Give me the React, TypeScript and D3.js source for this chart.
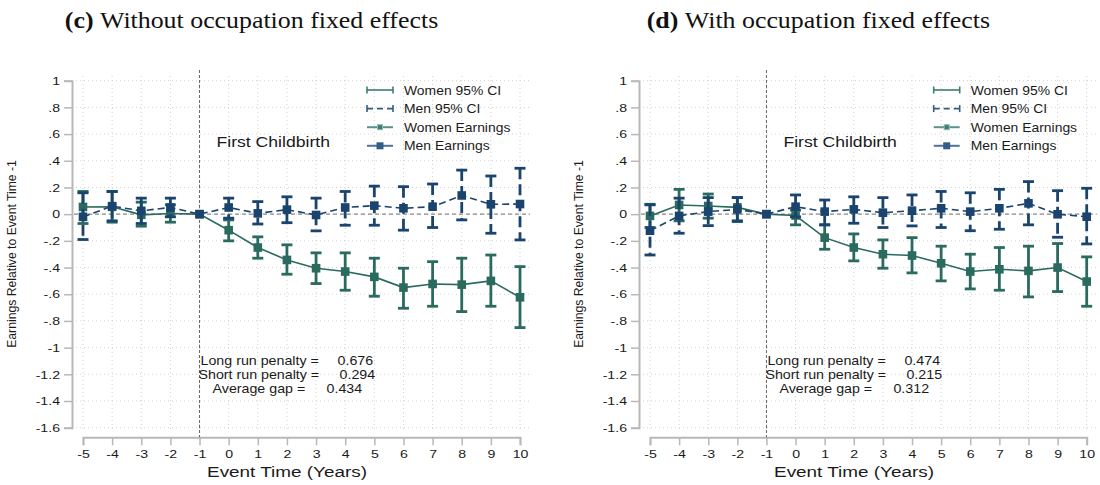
import { useRef, useEffect } from 'react'
import * as d3 from 'd3'

const EVENT_TIME = [-5, -4, -3, -2, -1, 0, 1, 2, 3, 4, 5, 6, 7, 8, 9, 10]
const Y_TICKS = [1, 0.8, 0.6, 0.4, 0.2, 0, -0.2, -0.4, -0.6, -0.8, -1, -1.2, -1.4, -1.6]

// panel (c): without occupation fixed effects
const WOMEN_C    = [0.054, 0.055, -0.005, 0.005, 0, -0.12, -0.25, -0.343, -0.405, -0.43, -0.47, -0.55, -0.523, -0.528, -0.5, -0.623]
const WOMEN_C_LO = [-0.07, -0.06, -0.09, -0.06, 0, -0.2, -0.33, -0.45, -0.52, -0.57, -0.615, -0.705, -0.69, -0.73, -0.69, -0.85]
const WOMEN_C_HI = [0.17, 0.17, 0.09, 0.07, 0, -0.043, -0.17, -0.23, -0.29, -0.29, -0.33, -0.405, -0.356, -0.33, -0.306, -0.393]
const MEN_C      = [-0.02, 0.06, 0.025, 0.05, 0, 0.05, 0.006, 0.034, -0.006, 0.05, 0.064, 0.044, 0.056, 0.14, 0.074, 0.076]
const MEN_C_LO   = [-0.19, -0.05, -0.07, -0.02, 0, -0.03, -0.074, -0.064, -0.125, -0.083, -0.083, -0.12, -0.1, -0.043, -0.143, -0.193]
const MEN_C_HI   = [0.16, 0.17, 0.12, 0.12, 0, 0.12, 0.094, 0.13, 0.12, 0.17, 0.21, 0.206, 0.226, 0.33, 0.286, 0.344]

// panel (d): with occupation fixed effects
const WOMEN_D    = [-0.013, 0.069, 0.061, 0.051, 0, -0.01, -0.176, -0.25, -0.3, -0.31, -0.368, -0.43, -0.413, -0.425, -0.4, -0.505]
const WOMEN_D_LO = [-0.1, -0.05, -0.03, -0.056, 0, -0.08, -0.263, -0.35, -0.405, -0.44, -0.5, -0.56, -0.57, -0.62, -0.58, -0.69]
const WOMEN_D_HI = [0.074, 0.186, 0.151, 0.124, 0, 0.03, -0.08, -0.148, -0.193, -0.176, -0.24, -0.3, -0.25, -0.24, -0.22, -0.32]
const MEN_D      = [-0.124, -0.013, 0.019, 0.036, 0, 0.056, 0.019, 0.036, 0.011, 0.026, 0.044, 0.019, 0.044, 0.081, -0.001, -0.019]
const MEN_D_LO   = [-0.306, -0.143, -0.086, -0.05, 0, -0.02, -0.08, -0.068, -0.1, -0.088, -0.1, -0.124, -0.113, -0.08, -0.173, -0.223]
const MEN_D_HI   = [0.07, 0.12, 0.124, 0.124, 0, 0.144, 0.106, 0.13, 0.124, 0.144, 0.17, 0.16, 0.186, 0.244, 0.176, 0.194]

const LEGEND = ['Women 95% CI', 'Men 95% CI', 'Women Earnings', 'Men Earnings']
const STAT_LABELS = ['Long run penalty =', 'Short run penalty =', 'Average gap =']
const STATS_C = ['0.676', '0.294', '0.434']
const STATS_D = ['0.474', '0.215', '0.312']

const GREEN = '#2a6a5f'
const NAVY  = '#1a446e'
const SANS  = 'Liberation Sans, Arial, sans-serif'

interface Panel {
  letter: string
  title: string
  x0: number; x1: number
  women: number[]; wLo: number[]; wHi: number[]
  men: number[]; mLo: number[]; mHi: number[]
  stats: string[]
}

const PANELS: Panel[] = [
  { letter: '(c)', title: 'Without occupation fixed effects', x0: 83, x1: 520,
    women: WOMEN_C, wLo: WOMEN_C_LO, wHi: WOMEN_C_HI, men: MEN_C, mLo: MEN_C_LO, mHi: MEN_C_HI, stats: STATS_C },
  { letter: '(d)', title: 'With occupation fixed effects', x0: 650, x1: 1086.7,
    women: WOMEN_D, wLo: WOMEN_D_LO, wHi: WOMEN_D_HI, men: MEN_D, mLo: MEN_D_LO, mHi: MEN_D_HI, stats: STATS_D },
]

const fmtY = (v: number) => {
  const r = Math.round(v * 10) / 10
  if (r === 0) return '0'
  if (Number.isInteger(r)) return String(r)
  return (r < 0 ? '-' : '') + String(Math.abs(r)).replace(/^0/, '')
}

type G = d3.Selection<SVGGElement, unknown, null, undefined>

// the source figure is squeezed vertically, so text is drawn a bit wider than normal
function stext(g: G, x: number, y: number, s: string, size: number, sx: number, anchor = 'start') {
  return g.append('text')
    .attr('transform', `translate(${x},${y}) scale(${sx},1)`)
    .attr('text-anchor', anchor)
    .attr('font-family', SANS)
    .attr('font-size', `${size}px`)
    .attr('fill', '#1a1a1a')
    .text(s)
}

export default function App() {
  const svgRef = useRef<SVGSVGElement>(null)

  useEffect(() => {
    if (!svgRef.current) return
    const svg = d3.select(svgRef.current)
    svg.selectAll('*').remove()

    const yScale = d3.scaleLinear().domain([-1.6, 1]).range([427.7, 80.7])

    PANELS.forEach(p => {
      const x = d3.scaleLinear().domain([-5, 10]).range([p.x0, p.x1])
      const g = svg.append('g') as unknown as G
      const axX = p.x0 - 11
      const axY = 437.3
      const gridR = p.x1 + 10

      // title
      const t = g.append('text')
        .attr('transform', `translate(${p.x0 + (p.x1 - p.x0) / 2 - 50},28) scale(1.14,1)`)
        .attr('text-anchor', 'middle')
        .attr('font-family', 'Liberation Serif, serif')
        .attr('font-size', '22.7px')
        .attr('fill', '#111')
      t.append('tspan').attr('font-weight', 'bold').text(p.letter + ' ')
      t.append('tspan').text(p.title)

      // grid
      Y_TICKS.forEach(v => {
        g.append('line')
          .attr('x1', axX + 4).attr('x2', gridR)
          .attr('y1', yScale(v)).attr('y2', yScale(v))
          .attr('stroke', '#d2d2d2').attr('stroke-width', 1).attr('stroke-dasharray', '1,3')
      })
      EVENT_TIME.forEach(v => {
        g.append('line')
          .attr('x1', x(v)).attr('x2', x(v))
          .attr('y1', 76).attr('y2', 432)
          .attr('stroke', '#d2d2d2').attr('stroke-width', 1).attr('stroke-dasharray', '1,3')
      })

      // y axis
      const TSX = 1.22
      const ya = g.append('g').attr('transform', `translate(${axX},0)`)
        .call(d3.axisLeft(yScale).tickValues(Y_TICKS).tickSize(8).tickPadding(3).tickFormat(d => fmtY(Number(d))))
      ya.select('.domain').attr('stroke', '#b8b8b8').attr('stroke-width', 2)
      ya.selectAll('line').attr('stroke', '#b8b8b8').attr('stroke-width', 1.5)
      ya.selectAll('text')
        .attr('x', -12 / TSX).attr('transform', `scale(${TSX},1)`)
        .attr('fill', '#1a1a1a').attr('font-size', '11.6px').attr('font-family', SANS)

      // x axis
      const xa = g.append('g').attr('transform', `translate(0,${axY})`)
        .call(d3.axisBottom(x).tickValues(EVENT_TIME).tickSize(8).tickPadding(4).tickFormat(d => String(d)))
      xa.select('.domain').attr('stroke', '#b8b8b8').attr('stroke-width', 2)
      xa.selectAll('line').attr('stroke', '#b8b8b8').attr('stroke-width', 1.5)
      xa.selectAll('text')
        .attr('transform', `scale(${TSX},1)`)
        .attr('fill', '#1a1a1a').attr('font-size', '11.6px').attr('font-family', SANS)

      // reference lines
      g.append('line')
        .attr('x1', axX + 2).attr('x2', gridR)
        .attr('y1', yScale(0)).attr('y2', yScale(0))
        .attr('stroke', '#8a8a8a').attr('stroke-width', 1.2).attr('stroke-dasharray', '4,3')
      g.append('line')
        .attr('x1', x(-1)).attr('x2', x(-1))
        .attr('y1', 70).attr('y2', axY)
        .attr('stroke', '#666').attr('stroke-width', 1).attr('stroke-dasharray', '3,2')

      // axis titles
      g.append('text')
        .attr('transform', `translate(${axX - 56},254) rotate(-90)`)
        .attr('text-anchor', 'middle').attr('font-family', SANS).attr('font-size', '12.2px').attr('fill', '#1a1a1a')
        .text('Earnings Relative to Event Time -1')
      stext(g, p.x0 + 204, 477, 'Event Time (Years)', 15.5, 1.22, 'middle')

      stext(g, x(-1) + 17, 147, 'First Childbirth', 14.8, 1.19)

      // stats
      const lx = [x(-1) + 1, x(-1) - 1, x(-1) + 13]
      const vx = [x(-1) + 138, x(-1) + 140, x(-1) + 127]
      STAT_LABELS.forEach((l, i) => {
        const yy = 364.5 + i * 14
        stext(g, lx[i], yy, l, 12.6, 1.13)
        stext(g, vx[i], yy, p.stats[i], 12.6, 1.13)
      })

      // series
      const series = [
        { v: p.women, lo: p.wLo, hi: p.wHi, c: GREEN, dash: null as string | null },
        { v: p.men, lo: p.mLo, hi: p.mHi, c: NAVY, dash: '7,4' },
      ]
      series.forEach(s => {
        const line = d3.line<number>().x((_, i) => x(EVENT_TIME[i])).y(d => yScale(d))
        g.append('path').attr('d', line(s.v) ?? '')
          .attr('fill', 'none').attr('stroke', s.c).attr('stroke-width', 1.6)
          .attr('stroke-dasharray', s.dash ?? null)
      })
      series.forEach(s => {
        EVENT_TIME.forEach((t, i) => {
          if (t === -1) return
          const cx = x(t)
          g.append('line').attr('x1', cx).attr('x2', cx)
            .attr('y1', yScale(s.hi[i])).attr('y2', yScale(s.lo[i]))
            .attr('stroke', s.c).attr('stroke-width', 2.8)
            .attr('stroke-dasharray', s.dash ? '11,5' : null)
          ;[s.hi[i], s.lo[i]].forEach(v => {
            g.append('line').attr('x1', cx - 5.5).attr('x2', cx + 5.5)
              .attr('y1', yScale(v)).attr('y2', yScale(v))
              .attr('stroke', s.c).attr('stroke-width', 2.8)
          })
        })
        g.selectAll(null).data(s.v).enter().append('rect')
          .attr('x', (_, i) => x(EVENT_TIME[i]) - 4.3)
          .attr('y', d => yScale(d) - 4.3)
          .attr('width', 8.6).attr('height', 8.6)
          .attr('fill', s.c)
      })

      // legend
      const sx0 = p.x1 - 153
      const sx1 = sx0 + 26
      LEGEND.forEach((name, i) => {
        const yy = 90 + i * 18.6
        const c = i % 2 === 0 ? '#3d7d71' : '#335d86'
        if (i < 2) {
          g.append('line').attr('x1', sx0).attr('x2', sx1).attr('y1', yy).attr('y2', yy)
            .attr('stroke', c).attr('stroke-width', 1.6).attr('stroke-dasharray', i === 1 ? '6,4' : null)
          ;[sx0, sx1].forEach(xx => {
            g.append('line').attr('x1', xx).attr('x2', xx).attr('y1', yy - 3.5).attr('y2', yy + 3.5)
              .attr('stroke', c).attr('stroke-width', 1.6)
          })
        } else {
          g.append('line').attr('x1', sx0).attr('x2', sx1).attr('y1', yy).attr('y2', yy)
            .attr('stroke', i === 2 ? '#5a9488' : '#4f7399').attr('stroke-width', 2)
          const s = i === 2 ? 5 : 7
          g.append('rect').attr('x', (sx0 + sx1) / 2 - s / 2).attr('y', yy - s / 2)
            .attr('width', s).attr('height', s).attr('fill', c)
            .attr('stroke', i === 2 ? '#8fb8ae' : 'none').attr('stroke-width', 1)
        }
        stext(g, sx1 + 11, yy + 4.6, name, 13, 1.07)
      })
    })
  }, [])

  return (
    <svg
      ref={svgRef}
      width={1100}
      height={485}
      style={{ position: 'absolute', left: 0, top: 0, background: '#fff', display: 'block' }}
    />
  )
}
